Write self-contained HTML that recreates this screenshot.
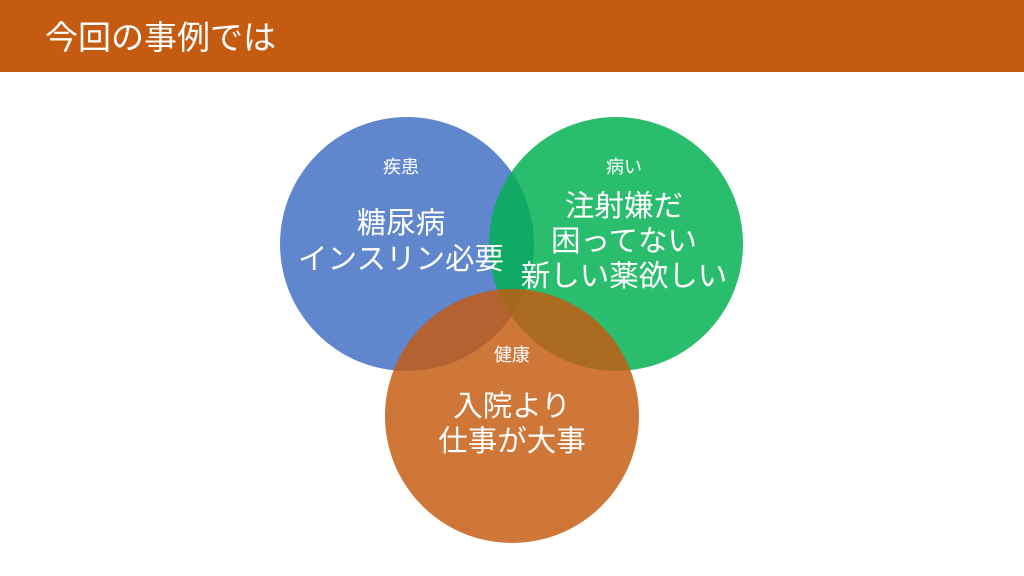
<!DOCTYPE html>
<html><head><meta charset="utf-8"><style>
body{margin:0;width:1024px;height:576px;background:#fff;overflow:hidden;font-family:"Liberation Sans","Noto Sans CJK JP",sans-serif;}
.hdr{position:absolute;left:0;top:0;width:1024px;height:72px;background:#C55A11;}
.hdr span{position:absolute;left:45px;top:16px;color:#fff;font-size:33px;line-height:44px;}
</style></head><body>
<div class="hdr"><span>今回の事例では</span></div>
<svg width="1024" height="576" style="position:absolute;left:0;top:0" font-family="Liberation Sans, Noto Sans CJK JP, sans-serif" fill="#fff" text-anchor="middle">
<circle cx="407" cy="244" r="127" fill="#4472C4" fill-opacity="0.85"/>
<circle cx="616" cy="244" r="127" fill="#00B050" fill-opacity="0.83"/>
<circle cx="512" cy="416" r="127" fill="#C55A11" fill-opacity="0.83"/>
<text x="401" y="173" font-size="18">疾患</text>
<text x="401" y="233" font-size="29.5">糖尿病</text>
<text x="401" y="269" font-size="29.5">インスリン必要</text>
<text x="624" y="173" font-size="18">病い</text>
<text x="624" y="216" font-size="29.5">注射嫌だ</text>
<text x="624" y="251" font-size="29.5">困ってない</text>
<text x="624" y="286" font-size="29.5">新しい薬欲しい</text>
<text x="512" y="361" font-size="18">健康</text>
<text x="512" y="416" font-size="29.5">入院より</text>
<text x="512" y="451" font-size="29.5">仕事が大事</text>
</svg>
</body></html>
